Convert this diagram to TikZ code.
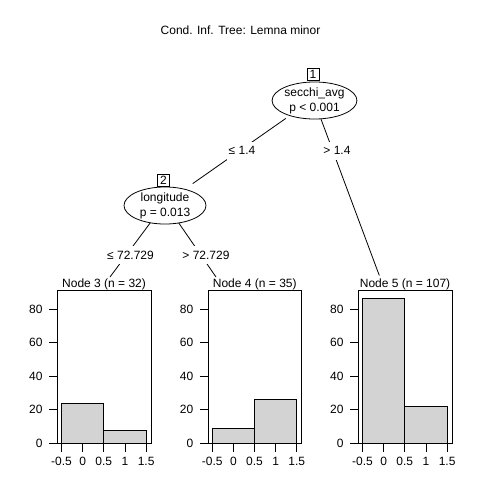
\documentclass[tikz,border=0pt]{standalone}
\usepackage{fontspec}
\setmainfont{Liberation Sans}
\usetikzlibrary{shapes.geometric}
\definecolor{barfill}{RGB}{211,211,211}
\tikzset{
  txt/.style={font=\fontsize{12}{15}\selectfont, inner sep=0pt},
  panelbox/.style={draw, inner sep=0pt, minimum width=93.3pt, minimum height=153.3pt, anchor=north west},
  bar/.style={draw, fill=barfill},
  innernode/.style={ellipse, draw, fill=white, minimum width=82pt, minimum height=35pt, inner sep=0pt, align=center, font=\fontsize{12}{15}\selectfont},
  idbox/.style={draw, fill=white, minimum width=12pt, minimum height=12pt, inner sep=0pt, font=\fontsize{12}{15}\selectfont},
  viewport/.style={rectangle, fill=white, minimum width=82pt, minimum height=38pt, inner sep=0pt},
  elab/.style={fill=white, inner sep=1.5pt, minimum height=18pt, font=\fontsize{12}{15}\selectfont},
}
\newcommand\histpanel[5]{%
  \pgfmathsetmacro\pc{#2+46.65}
  \node[panelbox] (b#1) at (#2,290) {};
  \node[txt, anchor=base] (t#1) at (\pc,287) {#3};
  \pgfmathsetmacro\xa{#2+4.1}
  \pgfmathsetmacro\xb{#2+4.1+42.3}
  \pgfmathsetmacro\xc{#2+4.1+84.6}
  \draw[bar] (\xa,443.3) rectangle (\xb,#4);
  \draw[bar] (\xb,443.3) rectangle (\xc,#5);
  \foreach \v/\lab in {0/-0.5,1/0,2/0.5,3/1,4/1.5} {
    \pgfmathsetmacro\tx{#2+4.1+21.15*\v}
    \draw (\tx,443.3) -- (\tx,451.5);
    \node[txt, anchor=base] (xl#1-\v) at (\tx,465.8) {\lab};
  }
  \foreach \v in {0,20,40,60,80} {
    \pgfmathsetmacro\ty{443.3-1.675*\v}
    \draw (#2-8,\ty) -- (#2,\ty);
    \node[txt, anchor=east] (yl#1-\v) at (#2-14.5,\ty) {\v};
  }
}
\begin{document}
\begin{tikzpicture}[x=1pt, y=-1pt, line width=0.8pt]
\fill[white] (0,0) rectangle (480,480);
\useasboundingbox (0,0) rectangle (480,480);

\node[txt, anchor=base] (title) at (240.5,34) {Cond. Inf. Tree: Lemna minor};

% viewports of inner nodes (white, hide edge ends)
\node[viewport] (n1vp) at (313.5,99) {};
\node[viewport] (n2vp) at (165,203) {};

% terminal edge ends
\coordinate (q3) at (110,277);
\coordinate (q4) at (216,277);
\coordinate (q5) at (379.3,275.5);

% edges
\draw (n1vp) -- (n2vp);
\draw (n1vp) -- (q5);
\draw (n2vp) -- (q3);
\draw (n2vp) -- (q4);

% inner nodes
\node[innernode] (n1) at (314.5,100.5) {secchi\_avg\\p < 0.001};
\node[idbox] (id1) at (313,74) {1};
\node[innernode] (n2) at (165,205.5) {longitude\\p = 0.013};
\node[idbox] (id2) at (163.5,180) {2};

% edge labels
\node[elab] (l12) at (242,150.5) {≤ 1.4};
\node[elab] (l15) at (337,150.5) {> 1.4};
\node[elab] (l23) at (130.5,255) {≤ 72.729};
\node[elab] (l24) at (206,255) {> 72.729};

% terminal panels
\histpanel{3}{57.4}{Node 3 (n = 32)}{403.2}{430.2}
\histpanel{4}{208.1}{Node 4 (n = 35)}{428.3}{399.5}
\histpanel{5}{358.4}{Node 5 (n = 107)}{298.5}{406.2}
\end{tikzpicture}
\end{document}
